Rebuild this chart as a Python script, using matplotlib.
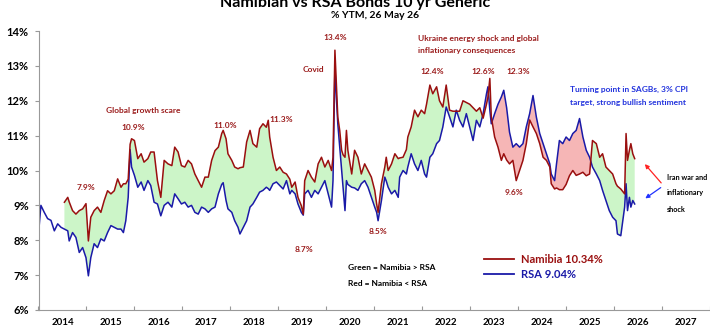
import numpy as np
import matplotlib
matplotlib.use("Agg")
from matplotlib import pyplot as plt

plt.rcParams['font.family'] = ['Lato', 'DejaVu Sans']

# decimal years
dates = [
    2014.00, 2014.05, 2014.12, 2014.19, 2014.26, 2014.33, 2014.40, 2014.47, 2014.54, 2014.61,
    2014.64, 2014.71, 2014.78, 2014.85, 2014.92, 2014.99, 2015.04, 2015.09, 2015.16, 2015.23,
    2015.30, 2015.37, 2015.44, 2015.51, 2015.58, 2015.65, 2015.72, 2015.77, 2015.82, 2015.87,
    2015.91, 2015.94, 2016.00, 2016.07, 2016.14, 2016.20, 2016.28, 2016.34, 2016.41, 2016.48,
    2016.55, 2016.62, 2016.70, 2016.78, 2016.84, 2016.91, 2016.98, 2017.05, 2017.12, 2017.19,
    2017.26, 2017.33, 2017.40, 2017.47, 2017.54, 2017.61, 2017.68, 2017.75, 2017.82, 2017.85,
    2017.91, 2017.95, 2018.03, 2018.09, 2018.16, 2018.20, 2018.27, 2018.34, 2018.41, 2018.47,
    2018.55, 2018.61, 2018.68, 2018.75, 2018.79, 2018.82, 2018.89, 2018.96, 2019.03, 2019.10,
    2019.17, 2019.24, 2019.28, 2019.35, 2019.41, 2019.48, 2019.52, 2019.55, 2019.62, 2019.69,
    2019.76, 2019.83, 2019.90, 2019.97, 2020.04, 2020.11, 2020.14, 2020.18, 2020.21, 2020.24,
    2020.28, 2020.32, 2020.35, 2020.39, 2020.42, 2020.45, 2020.53, 2020.59, 2020.66, 2020.73,
    2020.80, 2020.87, 2020.94, 2021.01, 2021.05, 2021.08, 2021.15, 2021.22, 2021.25, 2021.29,
    2021.36, 2021.43, 2021.50, 2021.53, 2021.60, 2021.67, 2021.70, 2021.77, 2021.84, 2021.91,
    2021.98, 2022.05, 2022.09, 2022.16, 2022.22, 2022.30, 2022.36, 2022.43, 2022.50, 2022.57,
    2022.64, 2022.71, 2022.78, 2022.85, 2022.92, 2022.99, 2023.06, 2023.13, 2023.20, 2023.27,
    2023.34, 2023.37, 2023.41, 2023.44, 2023.51, 2023.58, 2023.65, 2023.70, 2023.76, 2023.82,
    2023.89, 2023.96, 2024.03, 2024.10, 2024.17, 2024.24, 2024.31, 2024.38, 2024.45, 2024.52,
    2024.59, 2024.66, 2024.69, 2024.76, 2024.80, 2024.86, 2024.93, 2025.00, 2025.07, 2025.14,
    2025.21, 2025.28, 2025.35, 2025.42, 2025.49, 2025.55, 2025.63, 2025.70, 2025.76, 2025.83,
    2025.90, 2025.97, 2026.04, 2026.07, 2026.14, 2026.22, 2026.25, 2026.28, 2026.32, 2026.35,
    2026.39, 2026.43,
]

rsa = [
    8.18, 9.00, 8.80, 8.62, 8.57, 8.27, 8.47, 8.37, 8.32, 8.27,
    7.98, 8.22, 8.08, 7.65, 7.79, 7.50, 6.98, 7.50, 7.90, 7.79,
    8.04, 7.98, 8.22, 8.42, 8.37, 8.32, 8.32, 8.22, 8.56, 9.23,
    10.60, 10.10, 9.86, 9.52, 9.67, 9.43, 9.71, 9.57, 9.09, 9.04,
    8.70, 9.00, 9.09, 8.95, 9.33, 9.19, 9.04, 9.09, 8.95, 9.00,
    8.80, 8.75, 8.95, 8.90, 8.80, 8.90, 8.95, 9.33, 9.60, 9.65,
    9.14, 8.90, 8.80, 8.56, 8.37, 8.18, 8.37, 8.56, 8.95, 9.04,
    9.23, 9.38, 9.43, 9.52, 9.48, 9.43, 9.62, 9.67, 9.57, 9.47,
    9.71, 9.33, 9.43, 9.33, 9.04, 8.80, 8.72, 9.33, 9.43, 9.23,
    9.43, 9.33, 9.52, 9.71, 9.33, 8.95, 9.71, 12.97, 12.10, 11.34,
    10.67, 10.00, 9.52, 8.85, 9.71, 9.60, 9.52, 9.50, 9.43, 9.62,
    9.71, 9.52, 9.23, 8.95, 8.80, 8.56, 9.14, 9.81, 9.70, 9.52,
    9.33, 9.43, 9.23, 9.81, 10.00, 9.90, 10.10, 10.48, 10.19, 10.00,
    10.29, 9.90, 9.81, 10.38, 10.48, 10.77, 10.86, 11.25, 11.82, 11.54,
    11.25, 11.73, 11.44, 11.25, 11.63, 11.25, 10.86, 11.44, 11.25, 11.63,
    12.20, 12.40, 11.73, 11.34, 11.63, 11.90, 12.11, 12.30, 11.80, 11.10,
    10.67, 10.77, 10.67, 10.77, 11.25, 11.63, 12.15, 11.53, 11.06, 10.77,
    10.48, 10.19, 9.90, 9.71, 10.19, 10.86, 10.77, 10.96, 10.86, 11.06,
    11.15, 11.49, 10.96, 10.58, 10.38, 10.10, 9.90, 9.71, 9.43, 9.14,
    8.85, 8.66, 8.56, 8.18, 8.13, 8.95, 9.62, 8.85, 9.23, 8.95,
    9.14, 9.04,
]

nan = np.nan
namibia = [
    nan, nan, nan, nan, nan, nan, nan, nan, 9.09, 9.23,
    9.10, 8.85, 8.75, 8.85, 8.90, 9.05, 7.98, 8.66, 8.85, 8.95,
    8.80, 9.14, 9.42, 9.33, 9.42, 9.76, 9.52, 9.62, 9.62, 9.75,
    10.75, 10.91, 10.86, 10.34, 10.48, 10.24, 10.34, 10.53, 10.53, 9.71,
    9.23, 10.29, 10.19, 10.14, 10.67, 10.53, 10.14, 10.10, 10.29, 10.19,
    9.90, 9.71, 9.52, 9.81, 9.81, 10.29, 10.57, 10.67, 11.06, 11.15,
    10.91, 10.48, 10.29, 10.10, 10.05, 10.08, 10.10, 10.82, 11.15, 10.77,
    10.67, 11.20, 11.34, 11.24, 11.44, 10.96, 10.38, 10.00, 10.10, 9.95,
    9.90, 9.75, 9.52, 9.67, 9.23, 8.99, 8.75, 9.71, 10.00, 9.81,
    9.67, 10.19, 10.38, 10.10, 10.29, 10.00, 10.38, 13.45, 12.49, 11.53,
    11.15, 10.58, 10.45, 10.38, 11.15, 10.58, 9.90, 10.58, 10.38, 9.90,
    10.19, 10.00, 9.81, 9.43, 9.04, 8.80, 9.62, 10.10, 10.38, 10.00,
    10.19, 10.48, 10.34, 10.36, 10.38, 10.60, 10.96, 11.25, 11.73, 11.54,
    11.73, 11.63, 11.90, 12.45, 12.20, 12.40, 12.00, 11.82, 12.45, 11.73,
    11.70, 11.70, 11.70, 12.00, 11.95, 11.90, 11.80, 11.70, 11.80, 11.50,
    11.90, 12.10, 12.64, 11.54, 10.96, 10.67, 10.29, 10.48, 10.30, 10.19,
    10.29, 9.71, 10.00, 10.29, 10.77, 11.45, 11.25, 11.06, 10.77, 10.38,
    10.29, 10.10, 9.62, 9.47, 9.50, 9.45, 9.45, 9.60, 9.85, 10.00,
    9.86, 9.90, 9.95, 9.85, 9.90, 10.86, 10.77, 10.38, 10.48, 10.10,
    10.00, 9.90, 9.62, 9.55, 9.47, 9.33, 11.06, 10.29, 10.58, 10.77,
    10.48, 10.34,
]

years = list(range(2014, 2028))
y_ticks = [6, 7, 8, 9, 10, 11, 12, 13, 14]

nam_color = "#9a0f0f"
rsa_color = "#1a1aa8"
txt_red = "#9b1c1c"
W, H = 710, 331


def fpos(x, y):
    # pixel position (from top-left) -> figure fraction
    return x / W, 1 - y / H


fig = plt.figure(figsize=(7.1, 3.31), dpi=100)
ax = fig.add_axes([38.5 / W, 21 / H, 1 - 38.5 / W, 279 / H])

d = np.array(dates)
n = np.array(namibia)
r = np.array(rsa)
ax.fill_between(d, n, r, where=n >= r, interpolate=True, color="#ccf5c8", lw=0)
ax.fill_between(d, n, r, where=n < r, interpolate=True, color="#f6b6b6", lw=0)
ax.plot(d, r, color=rsa_color, lw=1.1)
ax.plot(d, n, color=nam_color, lw=1.1)

ax.set_xlim(2014, 2028)
ax.set_ylim(6, 14)
ax.set_xticks(years + [2028])
ax.set_xticklabels([])
ax.set_xticks([y + 0.5 for y in years], minor=True)
ax.set_xticklabels([str(y) for y in years], minor=True, fontsize=7, fontweight="bold")
ax.tick_params(axis="x", which="major", direction="in", length=3, color="#999999")
ax.tick_params(axis="x", which="minor", length=0, pad=6)
ax.set_yticks(y_ticks)
ax.set_yticklabels([f"{v}%" for v in y_ticks], fontsize=8, fontweight="bold")
ax.tick_params(axis="y", direction="out", length=3, color="#999999", pad=4)
for s in ["top", "right"]:
    ax.spines[s].set_visible(False)
for s in ["left", "bottom"]:
    ax.spines[s].set_color("#999999")
    ax.spines[s].set_linewidth(0.8)

# titles (top of the title runs off the picture, as in the source)
fig.text(*fpos(355, 7), "Namibian vs RSA Bonds 10 yr Generic", ha="center", va="baseline",
         fontsize=11.5, fontweight="bold")
fig.text(*fpos(375, 16), "% YTM, 26 May 26", ha="center", va="center", fontsize=7.5, fontweight="bold")

# event labels
labels = [
    (86, 187, "7.9%"), (143, 111, "Global growth scare"), (133, 128, "10.9%"),
    (225, 125, "11.0%"), (281, 120, "11.3%"), (313, 70, "Covid"), (335, 38, "13.4%"),
    (304, 250, "8.7%"), (378, 231, "8.5%"), (432, 72, "12.4%"), (483, 71, "12.6%"),
    (518, 71, "12.3%"), (514, 192, "9.6%"),
]
for x, y, t in labels:
    fig.text(*fpos(x, y), t, ha="center", va="center", fontsize=6, fontweight="bold", color=txt_red)

fig.text(*fpos(418, 38), "Ukraine energy shock and global", ha="left", va="center",
         fontsize=6, fontweight="bold", color=txt_red)
fig.text(*fpos(418, 51), "inflationary consequences", ha="left", va="center",
         fontsize=6, fontweight="bold", color=txt_red)
fig.text(*fpos(570, 89), "Turning point in SAGBs, 3% CPI", ha="left", va="center",
         fontsize=6, fontweight="bold", color="#2233dd")
fig.text(*fpos(570, 102), "target, strong bullish sentiment", ha="left", va="center",
         fontsize=6, fontweight="bold", color="#2233dd")

for i, t in enumerate(["Iran war and", "inflationary", "shock"]):
    fig.text(*fpos(667, 177 + i * 16), t, ha="left", va="center", fontsize=5.2, fontweight="bold")

ax.annotate("", xy=fpos(643, 162), xytext=fpos(663, 185), xycoords="figure fraction",
            textcoords="figure fraction",
            arrowprops=dict(arrowstyle="-|>", color="#ff2222", lw=0.9, mutation_scale=6))
ax.annotate("", xy=fpos(643, 200), xytext=fpos(663, 186), xycoords="figure fraction",
            textcoords="figure fraction",
            arrowprops=dict(arrowstyle="-|>", color="#2233ff", lw=0.9, mutation_scale=6))

fig.text(*fpos(348, 268), "Green = Namibia > RSA", ha="left", va="center", fontsize=6, fontweight="bold")
fig.text(*fpos(348, 283), "Red = Namibia < RSA", ha="left", va="center", fontsize=6, fontweight="bold")

# legend
h1, = ax.plot([], [], color=nam_color, lw=1.3)
h2, = ax.plot([], [], color=rsa_color, lw=1.3)
leg = fig.legend([h1, h2], [f"Namibia {namibia[-1]:.2f}%", f"RSA {rsa[-1]:.2f}%"],
                 loc="upper left", bbox_to_anchor=fpos(484, 254), frameon=False,
                 fontsize=8, handlelength=2.7, handletextpad=0.6, labelspacing=0.35,
                 borderpad=0, borderaxespad=0)
for t, c in zip(leg.get_texts(), [nam_color, rsa_color]):
    t.set_color(c)
    t.set_fontweight("bold")

fig.savefig("out.png", dpi=100)
